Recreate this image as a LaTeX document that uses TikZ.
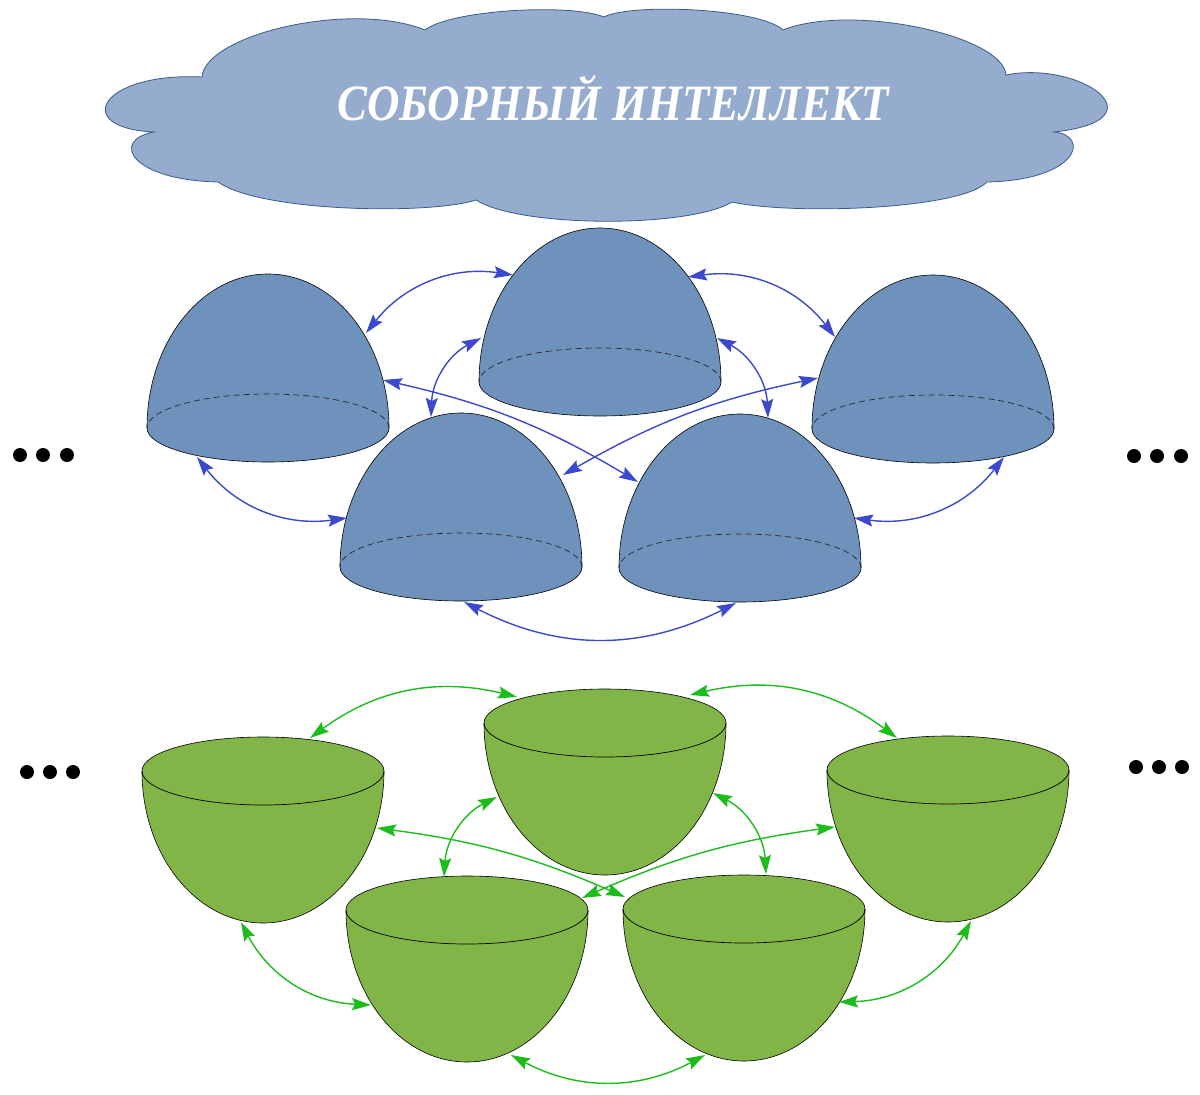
\documentclass[tikz,border=0pt]{standalone}
\usepackage{fontspec}
\setmainfont{Liberation Serif}
\usetikzlibrary{arrows.meta}
\definecolor{cloudfill}{RGB}{149,172,206}
\definecolor{cloudline}{RGB}{56,93,138}
\definecolor{domefill}{RGB}{111,146,189}
\definecolor{bowlfill}{RGB}{130,181,71}
\definecolor{bluearrow}{RGB}{60,72,205}
\definecolor{greenarrow}{RGB}{28,188,28}
\tikzset{
  domepic/.pic={
    \path[fill=domefill,draw=black,line width=0.6pt]
      (-121,0) arc[start angle=180,end angle=360,x radius=121pt,y radius=34pt]
      arc[start angle=0,end angle=180,x radius=121pt,y radius=154pt] -- cycle;
    \draw[black!85,line width=0.7pt,dash pattern=on 6pt off 4pt]
      (121,0) arc[start angle=0,end angle=180,x radius=121pt,y radius=34pt];
  },
  bowlpic/.pic={
    \path[fill=bowlfill,draw=black,line width=0.6pt]
      (-121,0) arc[start angle=180,end angle=360,x radius=121pt,y radius=152pt]
      arc[start angle=0,end angle=180,x radius=121pt,y radius=34pt] -- cycle;
    \draw[black,line width=0.7pt]
      (-121,0) arc[start angle=180,end angle=360,x radius=121pt,y radius=34pt];
  },
  bluearr/.style={draw=bluearrow,line width=1.4pt,
    {Stealth[length=19pt,width=12pt,inset=3pt]}-{Stealth[length=19pt,width=12pt,inset=3pt]}},
  greenarr/.style={draw=greenarrow,line width=1.4pt,
    {Stealth[length=19pt,width=12pt,inset=3pt]}-{Stealth[length=19pt,width=12pt,inset=3pt]}},
  dotmark/.style={fill=black},
}
\begin{document}
\begin{tikzpicture}[x=1pt,y=1pt]
\useasboundingbox (0,0) rectangle (1200,-1095);

% cloud
\path[fill=cloudfill,draw=cloudline,line width=0.8pt]
  (202,-77) .. controls (205,-35) and (350,0) .. (425,-30)
  .. controls (450,-10) and (570,-3) .. (604,-17)
  .. controls (630,-3) and (760,-8) .. (783,-30)
  .. controls (850,-3) and (1003,-35) .. (1006,-75)
  .. controls (1080,-60) and (1165,-120) .. (1054,-132)
  .. controls (1090,-135) and (1080,-180) .. (987,-182)
  .. controls (960,-210) and (790,-215) .. (732,-202)
  .. controls (690,-228) and (520,-228) .. (476,-200)
  .. controls (430,-215) and (260,-212) .. (218,-182)
  .. controls (130,-180) and (110,-140) .. (154,-132)
  .. controls (70,-128) and (100,-72) .. (202,-77) -- cycle;
\node[font=\fontsize{51}{56}\selectfont\bfseries\itshape,text=white,anchor=base,inner sep=0pt,xscale=0.88]
  (title) at (613,-120) {СОБОРНЫЙ ИНТЕЛЛЕКТ};

% domes
\coordinate (D1) at (268,-428);
\coordinate (D2) at (600,-382);
\coordinate (D3) at (933,-429);
\coordinate (D4) at (461,-567);
\coordinate (D5) at (740,-568);
\pic (dome1) at (D1) {domepic};
\pic (dome2) at (D2) {domepic};
\pic (dome3) at (D3) {domepic};
\pic (dome4) at (D4) {domepic};
\pic (dome5) at (D5) {domepic};

% bowls
\coordinate (B1) at (263,-771);
\coordinate (B2) at (605,-723);
\coordinate (B3) at (948,-770);
\coordinate (B4) at (467,-910);
\coordinate (B5) at (744,-909);
\pic (bowl1) at (B1) {bowlpic};
\pic (bowl2) at (B2) {bowlpic};
\pic (bowl3) at (B3) {bowlpic};
\pic (bowl4) at (B4) {bowlpic};
\pic (bowl5) at (B5) {bowlpic};

% upper arrow ends
\coordinate (u12a) at (366,-333); \coordinate (u12b) at (513,-275);
\coordinate (u23a) at (688,-277); \coordinate (u23b) at (835,-337);
\coordinate (u14a) at (197,-457); \coordinate (u14b) at (347,-518);
\coordinate (u35a) at (1004,-457); \coordinate (u35b) at (854,-518);
\coordinate (u45a) at (464,-602); \coordinate (u45b) at (736,-603);
\coordinate (u24a) at (481,-338); \coordinate (u24b) at (431,-417);
\coordinate (u25a) at (717,-338); \coordinate (u25b) at (768,-418);
\coordinate (u15a) at (383,-380); \coordinate (u15b) at (638,-482);
\coordinate (u34a) at (818,-378); \coordinate (u34b) at (563,-475);

\draw[bluearr] (u12a) to[bend left=30] (u12b);
\draw[bluearr] (u23a) to[bend left=30] (u23b);
\draw[bluearr] (u14a) to[bend right=30] (u14b);
\draw[bluearr] (u35a) to[bend left=30] (u35b);
\draw[bluearr] (u45a) to[bend right=27] (u45b);
\draw[bluearr] (u24a) to[bend right=30] (u24b);
\draw[bluearr] (u25a) to[bend left=30] (u25b);
\draw[bluearr] (u15a) to[bend left=9] (u15b);
\draw[bluearr] (u34a) to[bend right=9] (u34b);

% lower arrow ends
\coordinate (l12a) at (310,-738); \coordinate (l12b) at (517,-697);
\coordinate (l23a) at (690,-695); \coordinate (l23b) at (897,-738);
\coordinate (l14a) at (241,-922); \coordinate (l14b) at (371,-1005);
\coordinate (l35a) at (971,-921); \coordinate (l35b) at (839,-1002);
\coordinate (l45a) at (511,-1055); \coordinate (l45b) at (705,-1055);
\coordinate (l24a) at (497,-797); \coordinate (l24b) at (444,-877);
\coordinate (l25a) at (713,-793); \coordinate (l25b) at (766,-874);
\coordinate (l15a) at (377,-828); \coordinate (l15b) at (625,-897);
\coordinate (l34a) at (835,-827); \coordinate (l34b) at (582,-898);

\draw[greenarr] (l12a) to[bend left=25] (l12b);
\draw[greenarr] (l23a) to[bend left=25] (l23b);
\draw[greenarr] (l14a) to[bend right=30] (l14b);
\draw[greenarr] (l35a) to[bend left=30] (l35b);
\draw[greenarr] (l45a) to[bend right=28] (l45b);
\draw[greenarr] (l24a) to[bend right=30] (l24b);
\draw[greenarr] (l25a) to[bend left=30] (l25b);
\draw[greenarr] (l15a) to[bend left=8] (l15b);
\draw[greenarr] (l34a) to[bend right=8] (l34b);

% ellipsis dots
\foreach \x in {20,43,67} {\fill[dotmark] (\x,-455) circle[radius=7pt];}
\foreach \x in {1134,1157,1181} {\fill[dotmark] (\x,-456) circle[radius=7pt];}
\foreach \x in {27,50,73} {\fill[dotmark] (\x,-772) circle[radius=7pt];}
\foreach \x in {1136,1159,1182} {\fill[dotmark] (\x,-767) circle[radius=7pt];}
\end{tikzpicture}
\end{document}
